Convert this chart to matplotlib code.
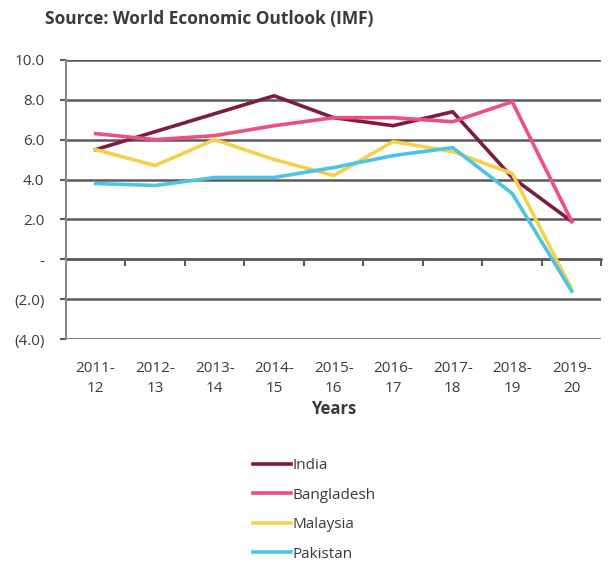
import matplotlib
matplotlib.use("Agg")
import matplotlib.pyplot as plt
import numpy as np

plt.rcParams['font.family'] = ['Open Sans', 'DejaVu Sans']

years = ["2011-\n12", "2012-\n13", "2013-\n14", "2014-\n15", "2015-\n16",
         "2016-\n17", "2017-\n18", "2018-\n19", "2019-\n20"]
india = [5.5, 6.4, 7.3, 8.2, 7.1, 6.7, 7.4, 4.1, 1.9]
bangladesh = [6.3, 6.0, 6.2, 6.7, 7.1, 7.1, 6.9, 7.9, 1.9]
malaysia = [5.5, 4.7, 6.0, 5.0, 4.2, 5.9, 5.4, 4.3, -1.5]
pakistan = [3.8, 3.7, 4.1, 4.1, 4.6, 5.2, 5.6, 3.3, -1.6]

series = [("India", india, "#7d1c3c"),
          ("Bangladesh", bangladesh, "#ee4f7c"),
          ("Malaysia", malaysia, "#f3d24a"),
          ("Pakistan", pakistan, "#4cc4e2")]

yticks = [10, 8, 6, 4, 2, 0, -2, -4]
ytick_labels = ["10.0", "8.0", "6.0", "4.0", "2.0", "-", "(2.0)", "(4.0)"]

txt = "#3a3a3a"

fig = plt.figure(figsize=(6.1, 5.65), dpi=100)
ax = fig.add_axes([0.108, 0.40, 0.878, 0.494])

x = np.arange(len(years))
for name, vals, col in series:
    ax.plot(x, vals, color=col, lw=2.6, label=name)

ax.set_xlim(-0.5, len(years) - 0.5)
ax.set_ylim(-4, 10)
ax.set_yticks(yticks)
ax.set_yticklabels(ytick_labels, fontsize=11, color=txt)
ax.yaxis.grid(True, color="#5a5a5a", lw=1.8)
ax.set_axisbelow(True)
ax.tick_params(axis="y", length=4.5, width=1.5, color="#5a5a5a", pad=11)

ax.set_xticks(x)
ax.set_xticklabels(years, fontsize=11, color=txt, linespacing=1.45)
ax.tick_params(axis="x", length=0, pad=16)
ax.set_xlabel("Years", fontsize=12, fontweight="bold", color=txt, labelpad=3)

for s in ["top", "right", "bottom"]:
    ax.spines[s].set_visible(False)
ax.spines["left"].set_color("#888888")
ax.spines["left"].set_linewidth(1.5)

# zero axis with category boundary ticks
zero = ax.secondary_xaxis(4 / 14)
zero.set_xticks(np.arange(len(years)) + 0.5)
zero.set_xticklabels([])
zero.tick_params(direction="out", length=5, width=1.5, color="#5a5a5a")
zero.spines["bottom"].set_color("#5a5a5a")
zero.spines["bottom"].set_linewidth(1.8)

fig.text(0.074, 0.967, "Source: World Economic Outlook (IMF)", fontsize=12.5,
         fontweight="bold", color=txt, va="center")

fig.legend(loc="upper left", bbox_to_anchor=(0.405, 0.2), frameon=False,
           fontsize=11, handlelength=2.5, handletextpad=0.1, labelspacing=0.95,
           borderaxespad=0, labelcolor=txt)

fig.savefig("out.png", dpi=100)
